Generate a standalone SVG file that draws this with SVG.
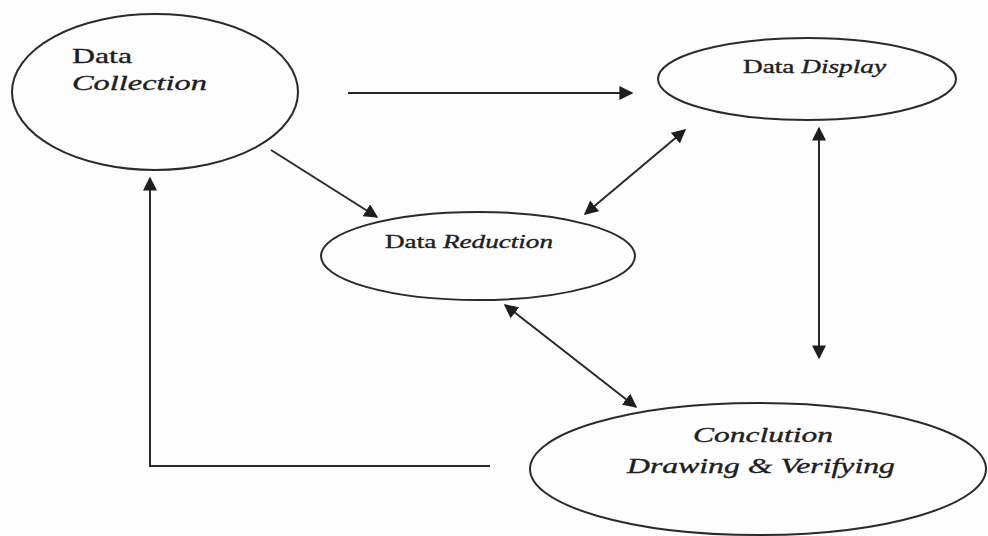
<svg xmlns="http://www.w3.org/2000/svg" width="988" height="536" viewBox="0 0 988 536">
<style>
.node{fill:none;stroke:#2a2a2a;stroke-width:2}
.t{font-family:"Liberation Serif","Times New Roman",serif;fill:#1e1e1e;stroke:#1e1e1e;stroke-width:0.35}
.it{font-style:italic}
.conn{fill:none;stroke:#2a2a2a;stroke-width:2}
</style>
<defs>
<marker id="ah" viewBox="0 0 10 10" refX="9" refY="5" markerWidth="7" markerHeight="7" markerUnits="strokeWidth" orient="auto-start-reverse">
<path d="M0,0 L10,5 L0,10 z" fill="#1e1e1e"/>
</marker>
</defs>
<rect width="988" height="536" fill="#fdfdfd"/>
<g id="connectors">
<line class="conn" x1="348" y1="93" x2="632" y2="93" marker-end="url(#ah)"/>
<line class="conn" x1="271" y1="150" x2="377" y2="217" marker-end="url(#ah)"/>
<line class="conn" x1="585" y1="214" x2="685" y2="130" marker-start="url(#ah)" marker-end="url(#ah)"/>
<line class="conn" x1="819" y1="128" x2="819" y2="358" marker-start="url(#ah)" marker-end="url(#ah)"/>
<line class="conn" x1="505" y1="305" x2="636" y2="407" marker-start="url(#ah)" marker-end="url(#ah)"/>
<polyline class="conn" points="490,466 150,466 150,178" marker-end="url(#ah)"/>
</g>
<g id="data-collection">
<ellipse class="node" cx="155" cy="92" rx="143" ry="78"/>
<text class="t" x="72" y="63" font-size="21" textLength="60" lengthAdjust="spacingAndGlyphs">Data</text>
<text class="t it" x="72" y="90" font-size="21" textLength="135" lengthAdjust="spacingAndGlyphs">Collection</text>
</g>
<g id="data-display">
<ellipse class="node" cx="807" cy="79" rx="149" ry="41"/>
<text class="t" x="743" y="73" font-size="18" textLength="143" lengthAdjust="spacingAndGlyphs">Data <tspan class="it">Display</tspan></text>
</g>
<g id="data-reduction">
<ellipse class="node" cx="478" cy="256" rx="157" ry="44"/>
<text class="t" x="385" y="248" font-size="18" textLength="168" lengthAdjust="spacingAndGlyphs">Data <tspan class="it">Reduction</tspan></text>
</g>
<g id="conclusion">
<ellipse class="node" cx="758" cy="469" rx="228" ry="66"/>
<text class="t it" x="693" y="442" font-size="21" textLength="140" lengthAdjust="spacingAndGlyphs">Conclution</text>
<text class="t it" x="627" y="473" font-size="21" textLength="268" lengthAdjust="spacingAndGlyphs">Drawing &amp; Verifying</text>
</g>
</svg>
